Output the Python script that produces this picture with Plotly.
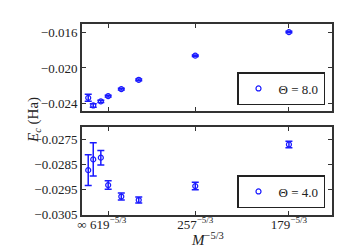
import plotly.graph_objects as go

# Data
M_vals = [1466, 1028, 754, 619, 485, 389, 257, 179]
tick_M = [619, 257, 179]

ec_theta8 = [-0.02333, -0.02418, -0.02373, -0.02314, -0.02236, -0.02132, -0.01863, -0.01600]
err_theta8 = [0.00039, 0.00020, 0.00012, 0.00010, 0.00010, 0.00010, 0.00008, 0.00008]

ec_theta4 = [-0.02873, -0.02830, -0.02823, -0.02933, -0.02979, -0.02993, -0.02937, -0.02770]
err_theta4 = [0.00062, 0.00067, 0.00029, 0.00017, 0.00014, 0.00012, 0.00015, 0.00013]

x_vals = [m ** (-5.0 / 3.0) for m in M_vals]
tick_x = [0.0] + [m ** (-5.0 / 3.0) for m in tick_M]
tick_text = ["∞"] + [f"{m}<sup>−5/3</sup>" for m in tick_M]

blue = "#1a1aff"
FONT = "Liberation Serif"

fig = go.Figure()
fig.add_trace(go.Scatter(
    x=x_vals, y=ec_theta8, mode="markers", name="Θ = 8.0", showlegend=True,
    marker=dict(symbol="circle-open", size=5, color=blue, line=dict(width=1.2, color=blue)),
    error_y=dict(type="data", array=err_theta8, color=blue, thickness=1.5, width=3.5),
    xaxis="x", yaxis="y", legend="legend",
))
fig.add_trace(go.Scatter(
    x=x_vals, y=ec_theta4, mode="markers", name="Θ = 4.0", showlegend=True,
    marker=dict(symbol="circle-open", size=5, color=blue, line=dict(width=1.2, color=blue)),
    error_y=dict(type="data", array=err_theta4, color=blue, thickness=1.5, width=3.5),
    xaxis="x2", yaxis="y2", legend="legend2",
))

axis_common = dict(showline=True, linewidth=2, linecolor="#333", mirror="ticks",
                   ticks="inside", ticklen=4, tickwidth=1, tickcolor="#333",
                   showgrid=False, zeroline=False, automargin=False,
                   tickfont=dict(family=FONT, size=13, color="#222"))
xr = [0, 2.125e-4]
top_dom = [0.5445, 1.0]
bot_dom = [0.0, 0.4607]

leg_common = dict(xanchor="right", yanchor="bottom", xref="paper", yref="paper",
                  bordercolor="#222", borderwidth=1.5, bgcolor="white",
                  font=dict(family=FONT, size=13, color="#222"), itemwidth=30,
                  tracegroupgap=0)

fig.update_layout(
    width=343, height=252,
    margin=dict(l=74, r=19, t=16, b=45, autoexpand=False),
    paper_bgcolor="white", plot_bgcolor="white",
    showlegend=True,
    font=dict(family=FONT, size=12, color="#222"),
    xaxis=dict(axis_common, domain=[0, 1], range=xr, anchor="y",
               tickvals=tick_x, ticktext=tick_text, showticklabels=False),
    yaxis=dict(axis_common, domain=top_dom, range=[-0.0248, -0.0151], anchor="x",
               tickvals=[-0.016, -0.020, -0.024], tickformat=".3f"),
    xaxis2=dict(axis_common, domain=[0, 1], range=xr, anchor="y2",
                tickvals=tick_x, ticktext=tick_text, ticklabelstandoff=-4),
    yaxis2=dict(axis_common, domain=bot_dom, range=[-0.03053, -0.0270], anchor="x2",
                tickvals=[-0.0275, -0.0285, -0.0295, -0.0305], tickformat=".4f"),
    legend=dict(leg_common, x=0.972, y=(207 - 97) / 191),
    legend2=dict(leg_common, x=0.972, y=(207 - 200) / 191),
    annotations=[
        dict(text="<i>E<sub>c</sub></i> (Ha)", x=(15 - 74) / 250, y=(207 - 112) / 191,
             xref="paper", yref="paper",
             showarrow=False, textangle=-90, font=dict(family=FONT, size=15, color="#222")),
        dict(text="<i>M</i><sup>−5/3</sup>", x=0.5, y=(207 - 231) / 191,
             xref="paper", yref="paper", yanchor="middle",
             showarrow=False, font=dict(family=FONT, size=15, color="#222")),
    ],
)

fig.write_html("out.html")
